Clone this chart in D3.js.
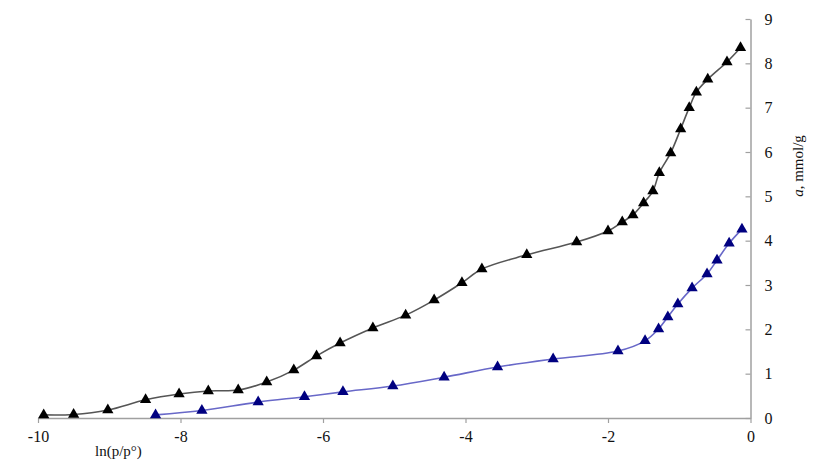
<!DOCTYPE html>
<html>
<head>
<meta charset="utf-8">
<script src="https://cdn.jsdelivr.net/npm/d3@7"></script>
<style>
  body { margin: 0; background: #fff; }
  text { font-family: "Liberation Serif", "Times New Roman", serif; }
</style>
</head>
<body>
<div id="vis"></div>
<script>
// upper curve (black)
const blackX = [-9.92, -9.5, -9.02, -8.49, -8.02, -7.61, -7.19, -6.79, -6.41, -6.09, -5.76, -5.3, -4.84, -4.44, -4.05, -3.77, -3.14, -2.44, -2.0, -1.8, -1.65, -1.5, -1.37, -1.28, -1.12, -0.98, -0.86, -0.76, -0.6, -0.33, -0.14]
const blackY = [0.07, 0.08, 0.18, 0.41, 0.54, 0.61, 0.63, 0.81, 1.08, 1.4, 1.69, 2.03, 2.32, 2.66, 3.05, 3.36, 3.68, 3.97, 4.22, 4.42, 4.58, 4.85, 5.12, 5.53, 5.98, 6.52, 7.0, 7.35, 7.64, 8.03, 8.35]

// lower curve (blue)
const blueX = [-8.35, -7.7, -6.91, -6.26, -5.72, -5.02, -4.3, -3.55, -2.77, -1.86, -1.48, -1.29, -1.16, -1.02, -0.82, -0.61, -0.47, -0.3, -0.12]
const blueY = [0.07, 0.17, 0.36, 0.48, 0.59, 0.72, 0.92, 1.15, 1.33, 1.51, 1.74, 2.01, 2.28, 2.57, 2.93, 3.25, 3.56, 3.94, 4.26]

const xTicks = [-10, -8, -6, -4, -2, 0]
const yTicks = [0, 1, 2, 3, 4, 5, 6, 7, 8, 9]

const width = 830
const height = 473

const svg = d3.select('#vis')
  .append('svg')
  .attr('width', width)
  .attr('height', height)

const x = d3.scaleLinear().domain([-10, 0]).range([38, 750.5])
const y = d3.scaleLinear().domain([0, 9]).range([418, 19])

// plain hyphen for negatives, like the original
const fmt = d => String(d)

// x axis
const xAxis = svg.append('g')
  .attr('transform', `translate(0,${y(0)})`)
  .call(d3.axisBottom(x).tickValues(xTicks).tickFormat(fmt).tickSizeInner(5).tickSizeOuter(0).tickPadding(8))
xAxis.select('.domain').attr('stroke', '#a0a0a0').attr('stroke-width', 1.5)
xAxis.selectAll('.tick line').attr('stroke', '#a0a0a0').attr('stroke-width', 1.2)
xAxis.selectAll('.tick text').attr('font-size', 16).attr('fill', '#111')

// y axis (on the right, ticks pointing left)
const yAxis = svg.append('g')
  .attr('transform', `translate(${x(0)},0)`)
  .call(d3.axisRight(y).tickValues(yTicks).tickFormat(fmt).tickSizeInner(-5).tickSizeOuter(0).tickPadding(14))
yAxis.select('.domain').attr('stroke', '#a0a0a0').attr('stroke-width', 1.5)
yAxis.selectAll('.tick line').attr('stroke', '#a0a0a0').attr('stroke-width', 1.2)
yAxis.selectAll('.tick text').attr('font-size', 16).attr('fill', '#111')

// axis titles
svg.append('text')
  .attr('x', 95)
  .attr('y', 456)
  .attr('font-size', 15)
  .attr('fill', '#111')
  .text('ln(p/p°)')

const yTitle = svg.append('text')
  .attr('transform', `translate(803,166) rotate(-90)`)
  .attr('text-anchor', 'middle')
  .attr('font-size', 15)
  .attr('fill', '#111')
yTitle.append('tspan').attr('font-style', 'italic').text('a')
yTitle.append('tspan').text(', mmol/g')

// series
const line = d3.line()
  .x(d => x(d[0]))
  .y(d => y(d[1]))
  .curve(d3.curveCatmullRom.alpha(0.5))

const triangle = d3.symbol().type(d3.symbolTriangle).size(55)

function drawSeries(xs, ys, lineColor, markColor) {
  const pts = xs.map((v, i) => [v, ys[i]])
  const g = svg.append('g')
  g.append('path')
    .datum(pts)
    .attr('d', line)
    .attr('fill', 'none')
    .attr('stroke', lineColor)
    .attr('stroke-width', 1.6)
  g.selectAll('path.mark')
    .data(pts)
    .enter()
    .append('path')
    .attr('class', 'mark')
    .attr('d', triangle)
    .attr('transform', d => `translate(${x(d[0])},${y(d[1])})`)
    .attr('fill', markColor)
}

drawSeries(blueX, blueY, '#6868c8', '#000080')
drawSeries(blackX, blackY, '#555555', '#000000')
</script>
</body>
</html>
